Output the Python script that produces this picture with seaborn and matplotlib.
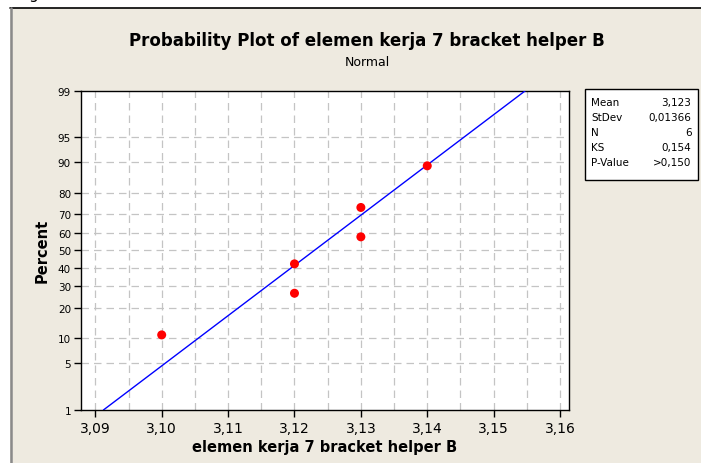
import numpy as np
import pandas as pd
import matplotlib
matplotlib.use("Agg")
import matplotlib.pyplot as plt
from matplotlib.patches import Rectangle
from matplotlib.lines import Line2D
from matplotlib.ticker import FixedLocator, FuncFormatter
from statistics import NormalDist
import seaborn as sns

# Observations and their plotting positions (percent)
values = [3.10, 3.12, 3.12, 3.13, 3.13, 3.14]
percents = [10.9, 26.6, 42.2, 57.8, 73.4, 89.1]

# Summary statistics shown in the box
stat_names = ["Mean", "StDev", "N", "KS", "P-Value"]
stat_texts = ["3,123", "0,01366", "6", "0,154", ">0,150"]
mean_val = 3.123
std_val = 0.01366

x_ticks = [3.09, 3.10, 3.11, 3.12, 3.13, 3.14, 3.15, 3.16]
y_ticks = [1, 5, 10, 20, 30, 40, 50, 60, 70, 80, 90, 95, 99]

W, H = 701, 464
sns.set_style("ticks")
plt.rcParams["font.family"] = ["DejaVu Sans"]
plt.rcParams["text.color"] = "black"
plt.rcParams["axes.labelcolor"] = "black"
plt.rcParams["xtick.color"] = "black"
plt.rcParams["ytick.color"] = "black"

fig = plt.figure(figsize=(W / 100, H / 100), dpi=100)
fig.patch.set_facecolor("white")

# beige panel with its frame lines
panel_col = "#EEEAE0"
fig.patches.append(Rectangle((10 / W, 0), 1 - 10 / W, (H - 9) / H,
                             transform=fig.transFigure, facecolor=panel_col,
                             edgecolor="none", zorder=-5))
fig.lines.append(Line2D([10 / W, 1], [(H - 9) / H] * 2, transform=fig.transFigure,
                        color="black", lw=1.2, zorder=-4))
fig.lines.append(Line2D([10.5 / W] * 2, [0, (H - 9) / H], transform=fig.transFigure,
                        color="#8a8a8a", lw=1.8, zorder=-4))
fig.text(33 / W, (H + 6) / H, "g", fontsize=11, ha="center", va="center", color="black")

ax_l, ax_r, ax_t, ax_b = 80.7, 569, 91.7, 411
ax = fig.add_axes([ax_l / W, (H - ax_b) / H, (ax_r - ax_l) / W, (ax_b - ax_t) / H])
ax.set_facecolor("white")

nd = NormalDist()
_ppf = np.vectorize(nd.inv_cdf, otypes=[float])
_cdf = np.vectorize(nd.cdf, otypes=[float])

def _fwd(p):
    p = np.asarray(p, dtype=float)
    bad = ~np.isfinite(p)
    q = np.clip(np.where(bad, 50.0, p) / 100.0, 1e-9, 1 - 1e-9)
    return np.where(bad, np.nan, _ppf(q))

def _inv(z):
    z = np.asarray(z, dtype=float)
    bad = np.isnan(z)
    return np.where(bad, np.nan, _cdf(np.where(bad, 0.0, z)) * 100.0)

ax.set_yscale("function", functions=(_fwd, _inv))

# fitted normal line from 1% to 99%
z_lo, z_hi = nd.inv_cdf(0.01), nd.inv_cdf(0.99)
fit = pd.DataFrame({"x": [mean_val + z_lo * std_val, mean_val + z_hi * std_val],
                    "p": [1, 99]})
sns.lineplot(data=fit, x="x", y="p", ax=ax, color="#0000FF", lw=1.0,
             errorbar=None, zorder=3)

pts = pd.DataFrame({"x": values, "p": percents})
sns.scatterplot(data=pts, x="x", y="p", ax=ax, color="#FF0000", s=42,
                edgecolor="none", zorder=4)

ax.set_xlim(3.0878, 3.16135)
ax.set_ylim(1, 99)

ax.xaxis.set_major_locator(FixedLocator(x_ticks))
ax.yaxis.set_major_locator(FixedLocator(y_ticks))
ax.yaxis.set_minor_locator(FixedLocator([]))
ax.xaxis.set_minor_locator(FixedLocator([]))
ax.xaxis.set_major_formatter(FuncFormatter(lambda v, _: f"{v:.2f}".replace(".", ",")))
ax.yaxis.set_major_formatter(FuncFormatter(lambda v, _: f"{v:.0f}"))

grid_kw = dict(color="#c4c4c4", lw=0.9, ls=(0, (6, 4)), zorder=1)
for gx in np.arange(3.09, 3.1601, 0.005):
    ax.axvline(gx, **grid_kw)
for gy in y_ticks[1:-1]:
    ax.axhline(gy, **grid_kw)

for s in ax.spines.values():
    s.set_color("black")
    s.set_linewidth(1.0)
ax.tick_params(axis="x", direction="out", length=5, width=1, labelsize=10, pad=3)
ax.tick_params(axis="y", direction="out", length=5, width=1, labelsize=7.5, pad=2)

ax.set_xlabel("elemen kerja 7 bracket helper B", fontsize=10.5, fontweight="bold", labelpad=3)
ax.set_ylabel("Percent", fontsize=10.5, fontweight="bold", labelpad=6)

fig.text(367 / W, 1 - 41 / H, "Probability Plot of elemen kerja 7 bracket helper B",
         ha="center", va="center", fontsize=12, fontweight="bold")
fig.text(367 / W, 1 - 62 / H, "Normal", ha="center", va="center", fontsize=9)

# statistics box
bx0, bx1, by0, by1 = 585, 698, 90, 181
fig.patches.append(Rectangle((bx0 / W, 1 - by1 / H), (bx1 - bx0) / W, (by1 - by0) / H,
                             transform=fig.transFigure, facecolor="white",
                             edgecolor="black", lw=1.0, zorder=2))
row_y = [102.7, 117.9, 133.1, 148.3, 163.5]
for name, txt, ry in zip(stat_names, stat_texts, row_y):
    fig.text(591.5 / W, 1 - ry / H, name, ha="left", va="center", fontsize=7.5, zorder=3)
    fig.text(691.5 / W, 1 - ry / H, txt, ha="right", va="center", fontsize=7.5, zorder=3)

fig.savefig("out.png", dpi=100, facecolor="white")
